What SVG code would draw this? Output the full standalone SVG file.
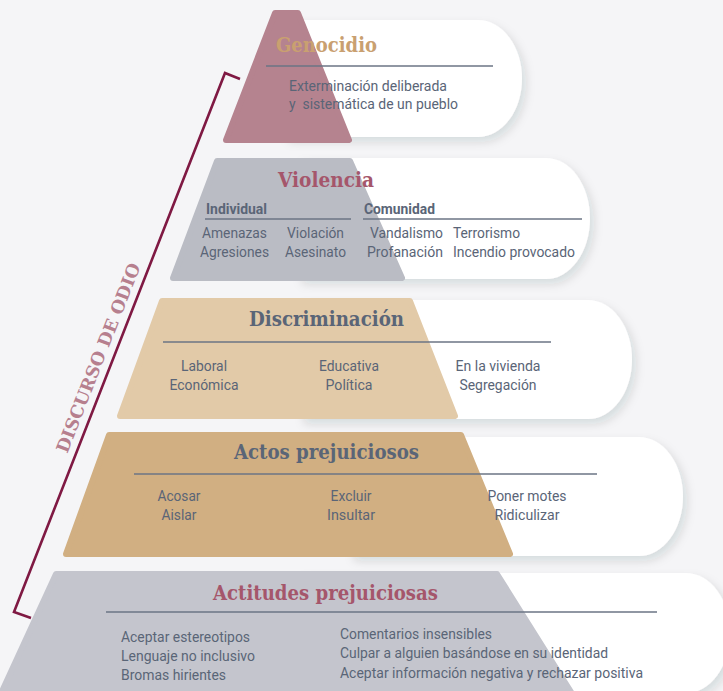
<svg xmlns="http://www.w3.org/2000/svg" width="723" height="691" viewBox="0 0 723 691">
  <defs>
    <filter id="cardShadow" x="-10%" y="-20%" width="125%" height="150%">
      <feDropShadow dx="4" dy="5" stdDeviation="5" flood-color="#1c2434" flood-opacity="0.13"/>
    </filter>
    <style>
      .card { fill: #ffffff; filter: url(#cardShadow); }
      .tier { stroke-width: 6; stroke-linejoin: round; }
      .t-geno { fill: #b5838f; stroke: #b5838f; }
      .t-viol { fill: #babcc4; stroke: #babcc4; }
      .t-disc { fill: #e2caa8; stroke: #e2caa8; }
      .t-acto { fill: #d1af82; stroke: #d1af82; }
      .t-acti { fill: #c4c5cd; stroke: #c4c5cd; }
      .rule { stroke: #6b7485; stroke-width: 1.4; fill: none; }
      .head { font-family: "DejaVu Serif", "Liberation Serif", serif; font-weight: bold; font-size: 20.5px; }
      .maroon { fill: #a5566b; }
      .tan { fill: #c9a070; }
      .slate { fill: #5a6577; }
      .body { font-family: Roboto, "Liberation Sans", sans-serif; font-size: 15px; fill: #5a6577; }
      .sub { font-family: Roboto, "Liberation Sans", sans-serif; font-size: 15px; font-weight: bold; fill: #5a6577; }
      .mid { text-anchor: middle; }
      .bracket { fill: none; stroke: #7f1943; stroke-width: 2.6; stroke-linejoin: miter; }
      .side { font-family: "DejaVu Serif", "Liberation Serif", serif; font-weight: bold; font-size: 17.5px; fill: #b67f8e; }
    </style>
  </defs>

  <rect width="723" height="691" fill="#f5f5f7"/>

  <!-- bracket spanning the hate-speech levels -->
  <g id="connectors">
    <polyline class="bracket" points="240,79 225,73 14,612 31,618"/>
  </g>
  <g id="discurso-label">
    <text class="side" text-anchor="middle" textLength="202" lengthAdjust="spacingAndGlyphs" transform="translate(104,360) rotate(-68.6)">DISCURSO DE ODIO</text>
  </g>

  <!-- Level 1 -->
  <g id="genocidio">
    <path class="card" d="M285,20 H478 A44,58.5 0 0 1 478,137 H285 Z"/>
    <polygon class="tier t-geno" points="275,13 298,13 349,140 226,140"/>
    <text class="head tan" x="276" y="52" textLength="101" lengthAdjust="spacingAndGlyphs">Genocidio</text>
    <line class="rule" x1="266" y1="66" x2="493" y2="66"/>
    <text class="body" x="289" y="91" textLength="158" lengthAdjust="spacingAndGlyphs">Exterminación deliberada</text>
    <text class="body" x="289" y="109" textLength="169" lengthAdjust="spacingAndGlyphs">y&#160; sistemática de un pueblo</text>
  </g>

  <!-- Level 2 -->
  <g id="violencia">
    <path class="card" d="M298,158 H546 A44,60.5 0 0 1 546,279 H298 Z"/>
    <polygon class="tier t-viol" points="217,161 350,161 402,278 173,278"/>
    <text class="head maroon" x="278" y="187" textLength="96" lengthAdjust="spacingAndGlyphs">Violencia</text>
    <text class="sub" x="206" y="214" textLength="61" lengthAdjust="spacingAndGlyphs">Individual</text>
    <line class="rule" x1="205" y1="219" x2="351" y2="219"/>
    <text class="sub" x="364" y="214" textLength="71" lengthAdjust="spacingAndGlyphs">Comunidad</text>
    <line class="rule" x1="363" y1="219" x2="582" y2="219"/>
    <text class="body" x="202" y="238" textLength="65" lengthAdjust="spacingAndGlyphs">Amenazas</text>
    <text class="body" x="200" y="257" textLength="69" lengthAdjust="spacingAndGlyphs">Agresiones</text>
    <text class="body" x="287" y="238" textLength="57" lengthAdjust="spacingAndGlyphs">Violación</text>
    <text class="body" x="285" y="257" textLength="61" lengthAdjust="spacingAndGlyphs">Asesinato</text>
    <text class="body" x="370" y="238" textLength="73" lengthAdjust="spacingAndGlyphs">Vandalismo</text>
    <text class="body" x="367" y="257" textLength="76" lengthAdjust="spacingAndGlyphs">Profanación</text>
    <text class="body" x="453" y="238" textLength="67" lengthAdjust="spacingAndGlyphs">Terrorismo</text>
    <text class="body" x="453" y="257" textLength="122" lengthAdjust="spacingAndGlyphs">Incendio provocado</text>
  </g>

  <!-- Level 3 -->
  <g id="discriminacion">
    <path class="card" d="M300,300 H588 A44,59.5 0 0 1 588,419 H300 Z"/>
    <polygon class="tier t-disc" points="162,301 410,301 455,416 120,416"/>
    <text class="head slate" x="249" y="326" textLength="155" lengthAdjust="spacingAndGlyphs">Discriminación</text>
    <line class="rule" x1="163" y1="342" x2="551" y2="342"/>
    <text class="body mid" x="204" y="371" textLength="46" lengthAdjust="spacingAndGlyphs">Laboral</text>
    <text class="body mid" x="204" y="390" textLength="69" lengthAdjust="spacingAndGlyphs">Económica</text>
    <text class="body mid" x="349" y="371" textLength="60" lengthAdjust="spacingAndGlyphs">Educativa</text>
    <text class="body mid" x="349" y="390" textLength="47" lengthAdjust="spacingAndGlyphs">Política</text>
    <text class="body mid" x="498" y="371" textLength="85" lengthAdjust="spacingAndGlyphs">En la vivienda</text>
    <text class="body mid" x="498" y="390" textLength="77" lengthAdjust="spacingAndGlyphs">Segregación</text>
  </g>

  <!-- Level 4 -->
  <g id="actos-prejuiciosos">
    <path class="card" d="M350,437 H639 A44,59.5 0 0 1 639,556 H350 Z"/>
    <polygon class="tier t-acto" points="109,435 461,435 510,554 66,554"/>
    <text class="head slate" x="234" y="459" textLength="185" lengthAdjust="spacingAndGlyphs">Actos prejuiciosos</text>
    <line class="rule" x1="134" y1="474" x2="597" y2="474"/>
    <text class="body mid" x="179" y="501" textLength="43" lengthAdjust="spacingAndGlyphs">Acosar</text>
    <text class="body mid" x="179" y="520" textLength="35" lengthAdjust="spacingAndGlyphs">Aislar</text>
    <text class="body mid" x="351" y="501" textLength="41" lengthAdjust="spacingAndGlyphs">Excluir</text>
    <text class="body mid" x="351" y="520" textLength="48" lengthAdjust="spacingAndGlyphs">Insultar</text>
    <text class="body mid" x="527" y="501" textLength="79" lengthAdjust="spacingAndGlyphs">Poner motes</text>
    <text class="body mid" x="527" y="520" textLength="65" lengthAdjust="spacingAndGlyphs">Ridiculizar</text>
  </g>

  <!-- Level 5 -->
  <g id="actitudes-prejuiciosas">
    <path class="card" d="M300,573 H686 A44,60 0 0 1 686,693 H300 Z"/>
    <polygon class="tier t-acti" points="56,574 497,574 576,700 -2,700"/>
    <text class="head maroon" x="213" y="600" textLength="225" lengthAdjust="spacingAndGlyphs">Actitudes prejuiciosas</text>
    <line class="rule" x1="106" y1="612" x2="657" y2="612"/>
    <text class="body" x="121" y="642" textLength="129" lengthAdjust="spacingAndGlyphs">Aceptar estereotipos</text>
    <text class="body" x="121" y="661" textLength="134" lengthAdjust="spacingAndGlyphs">Lenguaje no inclusivo</text>
    <text class="body" x="121" y="680" textLength="105" lengthAdjust="spacingAndGlyphs">Bromas hirientes</text>
    <text class="body" x="340" y="639" textLength="152" lengthAdjust="spacingAndGlyphs">Comentarios insensibles</text>
    <text class="body" x="340" y="658" textLength="268" lengthAdjust="spacingAndGlyphs">Culpar a alguien basándose en su identidad</text>
    <text class="body" x="340" y="678" textLength="303" lengthAdjust="spacingAndGlyphs">Aceptar información negativa y rechazar positiva</text>
  </g>
</svg>
